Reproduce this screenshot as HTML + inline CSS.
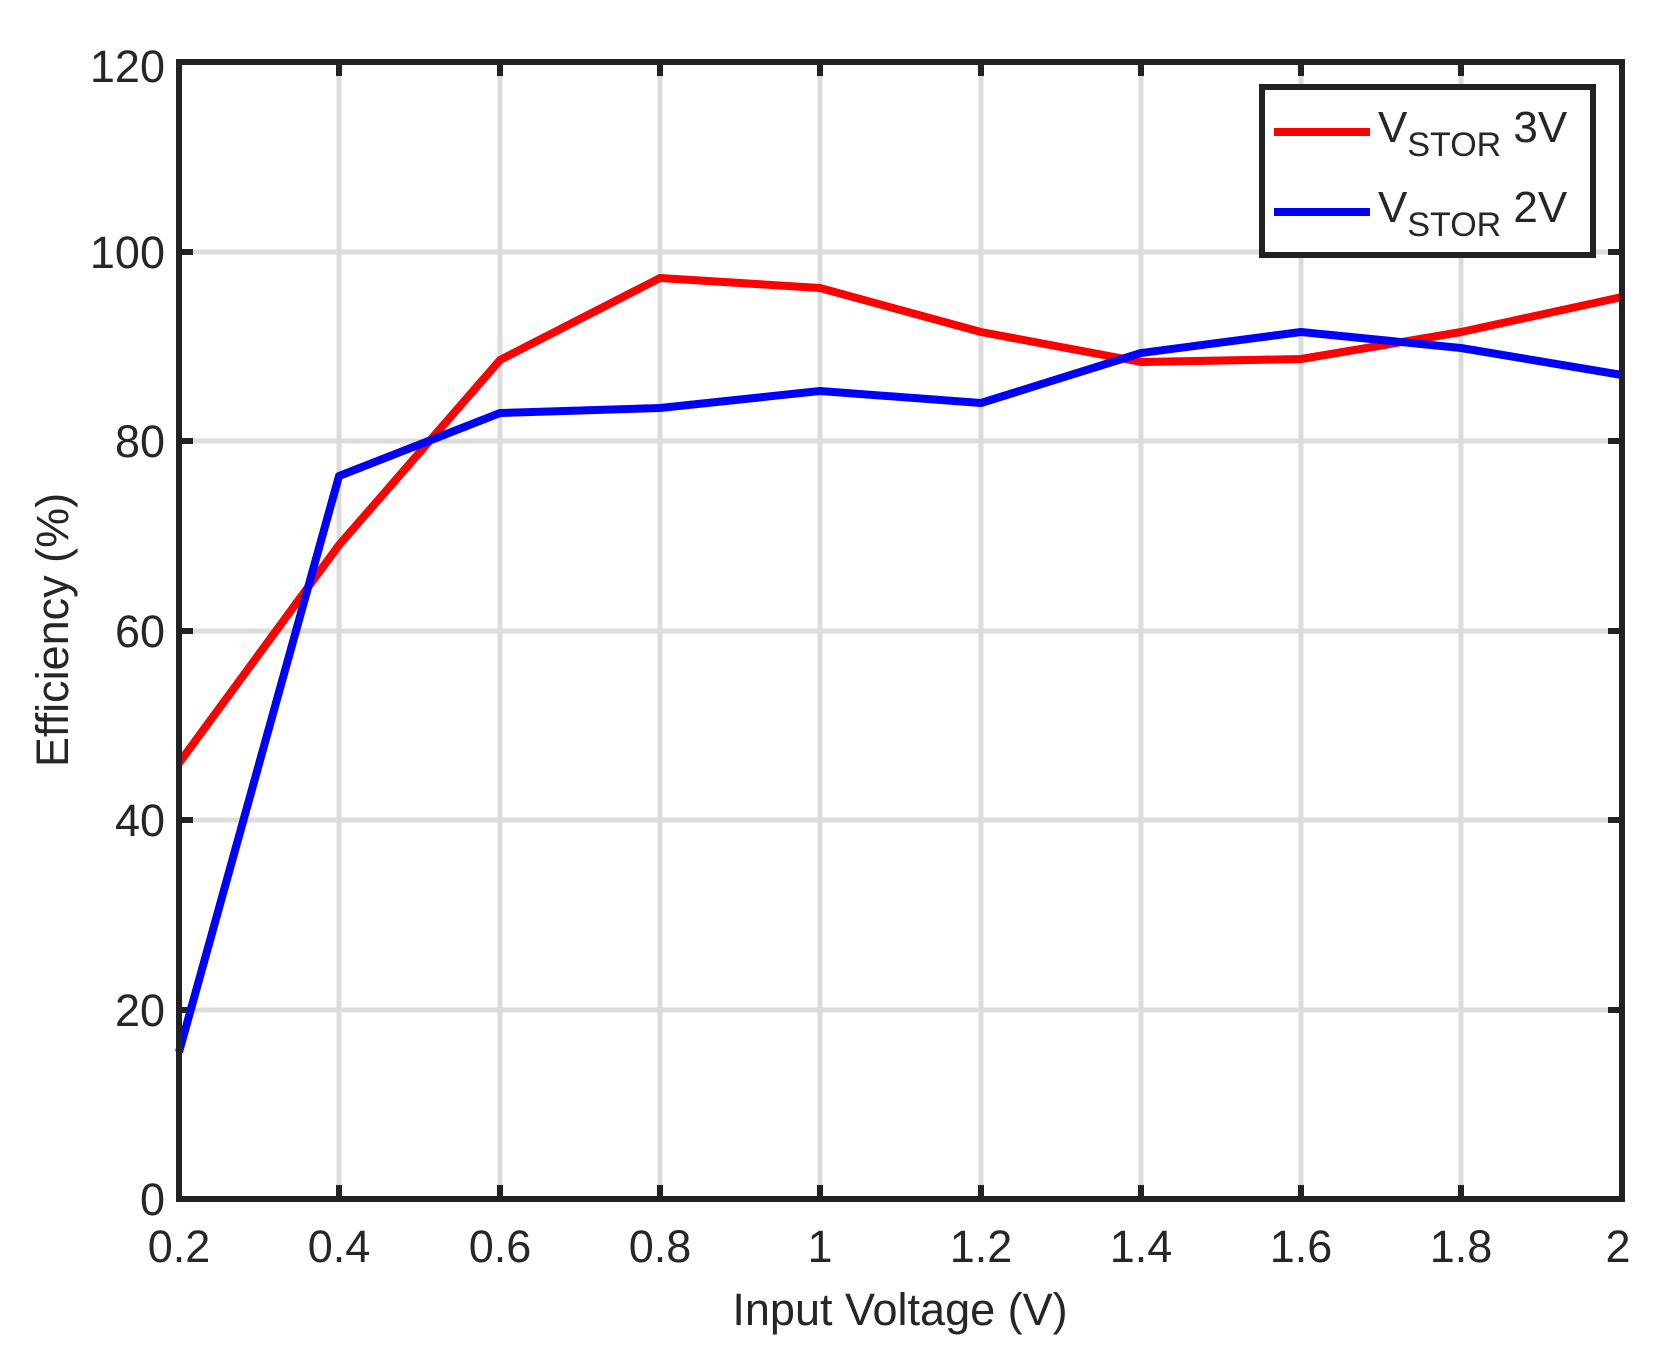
<!DOCTYPE html><html><head><style>body{margin:0;background:#fff}svg{display:block}text{font-family:"Liberation Sans",sans-serif;fill:#262626}</style></head><body>
<svg width="1665" height="1365" viewBox="0 0 1665 1365">
<g stroke="#dcdcdc" stroke-width="5">
<line x1="339" y1="62" x2="339" y2="1199"/><line x1="500" y1="62" x2="500" y2="1199"/><line x1="660" y1="62" x2="660" y2="1199"/><line x1="820" y1="62" x2="820" y2="1199"/><line x1="981" y1="62" x2="981" y2="1199"/><line x1="1141" y1="62" x2="1141" y2="1199"/><line x1="1301" y1="62" x2="1301" y2="1199"/><line x1="1461" y1="62" x2="1461" y2="1199"/>
<line x1="179" y1="252" x2="1622" y2="252"/><line x1="179" y1="441" x2="1622" y2="441"/><line x1="179" y1="631" x2="1622" y2="631"/><line x1="179" y1="820" x2="1622" y2="820"/><line x1="179" y1="1010" x2="1622" y2="1010"/>
</g>
<g stroke="#222" stroke-width="6">
<line x1="339" y1="1199" x2="339" y2="1185"/><line x1="500" y1="1199" x2="500" y2="1185"/><line x1="660" y1="1199" x2="660" y2="1185"/><line x1="820" y1="1199" x2="820" y2="1185"/><line x1="981" y1="1199" x2="981" y2="1185"/><line x1="1141" y1="1199" x2="1141" y2="1185"/><line x1="1301" y1="1199" x2="1301" y2="1185"/><line x1="1461" y1="1199" x2="1461" y2="1185"/>
<line x1="339" y1="62" x2="339" y2="76"/><line x1="500" y1="62" x2="500" y2="76"/><line x1="660" y1="62" x2="660" y2="76"/><line x1="820" y1="62" x2="820" y2="76"/><line x1="981" y1="62" x2="981" y2="76"/><line x1="1141" y1="62" x2="1141" y2="76"/><line x1="1301" y1="62" x2="1301" y2="76"/><line x1="1461" y1="62" x2="1461" y2="76"/>
<line x1="179" y1="252" x2="193" y2="252"/><line x1="179" y1="441" x2="193" y2="441"/><line x1="179" y1="631" x2="193" y2="631"/><line x1="179" y1="820" x2="193" y2="820"/><line x1="179" y1="1010" x2="193" y2="1010"/>
<line x1="1622" y1="252" x2="1608" y2="252"/><line x1="1622" y1="441" x2="1608" y2="441"/><line x1="1622" y1="631" x2="1608" y2="631"/><line x1="1622" y1="820" x2="1608" y2="820"/><line x1="1622" y1="1010" x2="1608" y2="1010"/>
</g>
<polyline fill="none" stroke="#ff0000" stroke-width="8" stroke-linejoin="round" points="179,763 339,545 500,360 660,278 820,288 981,332 1141,362 1301,359 1461,332 1622,297"/>
<polyline fill="none" stroke="#0000ff" stroke-width="8" stroke-linejoin="round" points="179,1052 339,476 500,413 660,408 820,391 981,403 1141,353 1301,332 1461,348 1622,375"/>
<rect x="179" y="62" width="1443" height="1137" fill="none" stroke="#222" stroke-width="6"/>
<rect x="1262" y="87" width="331" height="168" fill="#fff" stroke="#222" stroke-width="6"/>
<line x1="1274" y1="132" x2="1370" y2="132" stroke="#ff0000" stroke-width="8"/>
<line x1="1274" y1="212" x2="1370" y2="212" stroke="#0000ff" stroke-width="8"/>
<text x="1378" y="142" font-size="44">V<tspan font-size="34" dy="14">STOR</tspan><tspan dy="-14"> 3V</tspan></text>
<text x="1378" y="222" font-size="44">V<tspan font-size="34" dy="14">STOR</tspan><tspan dy="-14"> 2V</tspan></text>
<g font-size="45" text-anchor="end">
<text x="165" y="82">120</text><text x="165" y="268">100</text><text x="165" y="457">80</text><text x="165" y="647">60</text><text x="165" y="836">40</text><text x="165" y="1026">20</text><text x="165" y="1215">0</text>
</g>
<g font-size="45" text-anchor="middle">
<text x="179" y="1262">0.2</text><text x="339" y="1262">0.4</text><text x="500" y="1262">0.6</text><text x="660" y="1262">0.8</text><text x="820" y="1262">1</text><text x="981" y="1262">1.2</text><text x="1141" y="1262">1.4</text><text x="1301" y="1262">1.6</text><text x="1461" y="1262">1.8</text><text x="1618" y="1262">2</text>
<text x="900" y="1325">Input Voltage (V)</text>
<text transform="translate(68,630) rotate(-90)">Efficiency (%)</text>
</g>
</svg></body></html>
